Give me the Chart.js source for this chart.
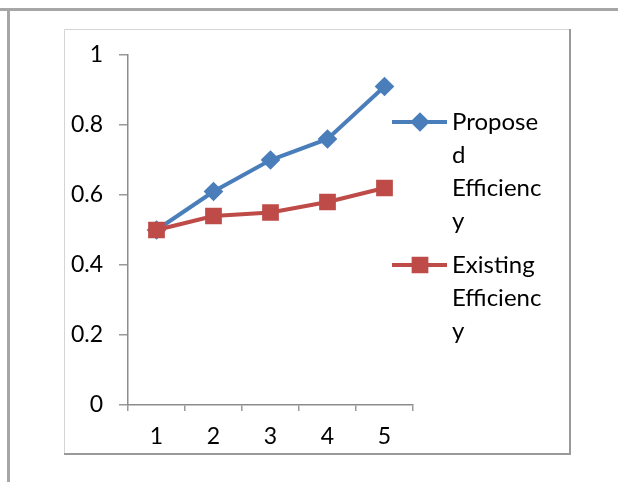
<!DOCTYPE html>
<html>
<head>
<meta charset="utf-8">
<script src="https://cdn.jsdelivr.net/npm/chart.js@4.4.0/dist/chart.umd.min.js"></script>
<style>
  html, body { margin: 0; padding: 0; background: #fff; }
  #wrap { width: 618px; height: 482px; }
</style>
</head>
<body>
<div id="wrap"><canvas id="myChart" width="618" height="482"></canvas></div>
<script>
const categories = ["1", "2", "3", "4", "5"];
const proposed = [0.5, 0.61, 0.70, 0.76, 0.91];
const existing = [0.5, 0.54, 0.55, 0.58, 0.62];
const legendLines = [
  ["Propose", "d", "Efficienc", "y"],
  ["Existing", "Efficienc", "y"],
];
const colors = ["#4a7ebb", "#be4b48"];

const FONT = "Lato, 'Open Sans', sans-serif";

// outer and inner frames, like the pasted Excel picture
const framePlugin = {
  id: "frame",
  beforeDraw(chart) {
    const ctx = chart.ctx;
    ctx.save();
    ctx.fillStyle = "#fff";
    ctx.fillRect(0, 0, chart.width, chart.height);
    ctx.fillStyle = "#a6a6a6";
    ctx.fillRect(0, 8, chart.width, 3);
    ctx.fillRect(7, 8, 3, chart.height);
    ctx.strokeStyle = "#d4d4d4";
    ctx.lineWidth = 1;
    ctx.beginPath();
    ctx.moveTo(64.5, 454);
    ctx.lineTo(64.5, 29.5);
    ctx.lineTo(570, 29.5);
    ctx.stroke();
    ctx.strokeStyle = "#9a9a9a";
    ctx.lineWidth = 2;
    ctx.beginPath();
    ctx.moveTo(570, 29);
    ctx.lineTo(570, 454);
    ctx.lineTo(64, 454);
    ctx.stroke();
    ctx.restore();
  },
};

// legend with wrapped text on the right
const legendPlugin = {
  id: "sideLegend",
  afterDraw(chart) {
    const ctx = chart.ctx;
    const starts = [122, 265];
    ctx.save();
    chart.data.datasets.forEach((ds, i) => {
      const y = starts[i];
      ctx.strokeStyle = ds.borderColor;
      ctx.lineWidth = 4;
      ctx.beginPath();
      ctx.moveTo(392, y);
      ctx.lineTo(447, y);
      ctx.stroke();
      ctx.fillStyle = ds.backgroundColor;
      Chart.helpers.drawPoint(ctx, {
        pointStyle: ds.pointStyle,
        radius: ds.pointRadius,
        rotation: 0,
        borderWidth: 1,
      }, 420, y);
      ctx.fillStyle = "#000";
      ctx.font = "24px " + FONT;
      ctx.textBaseline = "middle";
      ctx.textAlign = "left";
      legendLines[i].forEach((t, k) => {
        ctx.fillText(t, 452, y + k * 33);
      });
    });
    ctx.restore();
  },
};

Chart.defaults.font.family = FONT;
Chart.defaults.font.size = 23;
Chart.defaults.color = "#000";

new Chart(document.getElementById("myChart"), {
  type: "line",
  data: {
    labels: categories,
    datasets: [
      {
        label: "Proposed Efficiency",
        data: proposed,
        borderColor: colors[0],
        backgroundColor: colors[0],
        borderWidth: 4,
        pointStyle: "rectRot",
        pointRadius: 7,
        tension: 0,
        order: 1,
      },
      {
        label: "Existing Efficiency",
        data: existing,
        borderColor: colors[1],
        backgroundColor: colors[1],
        borderWidth: 4,
        pointStyle: "rect",
        pointRadius: 9,
        tension: 0,
        order: 0,
      },
    ],
  },
  options: {
    responsive: false,
    animation: false,
    events: [],
    layout: { padding: { left: 0, top: 55, right: 205, bottom: 0 } },
    plugins: {
      legend: { display: false },
      tooltip: { enabled: false },
    },
    scales: {
      x: {
        type: "category",
        offset: true,
        afterFit: (s) => { s.height = 77; },
        grid: {
          offset: true,
          drawOnChartArea: false,
          drawTicks: true,
          tickLength: 6,
          color: "#999",
          lineWidth: 1.5,
        },
        border: { display: true, color: "#8c8c8c", width: 1.5 },
        ticks: { padding: 12, maxRotation: 0 },
      },
      y: {
        min: 0,
        max: 1,
        afterFit: (s) => { s.width = 128; },
        grid: {
          drawOnChartArea: false,
          drawTicks: true,
          tickLength: 9,
          color: "#999",
          lineWidth: 1.5,
        },
        border: { display: true, color: "#8c8c8c", width: 1.5 },
        ticks: {
          stepSize: 0.2,
          padding: 16,
          callback: (v) => String(Math.round(v * 10) / 10),
        },
      },
    },
  },
  plugins: [framePlugin, legendPlugin],
});
</script>
</body>
</html>
